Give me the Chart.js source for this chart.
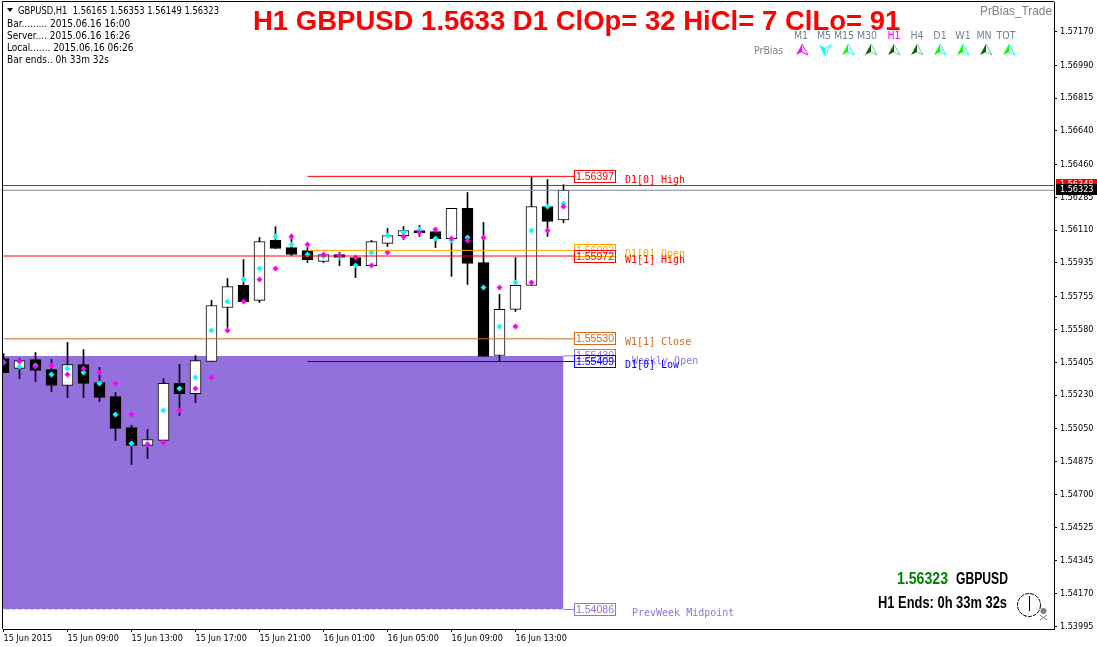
<!DOCTYPE html>
<html>
<head>
<meta charset="utf-8">
<title>GBPUSD H1</title>
<script src="https://cdn.jsdelivr.net/npm/chart.js@4"></script>
<style>
  html, body { margin: 0; padding: 0; background: #fff; }
  canvas { display: block; }
</style>
</head>
<body>
<canvas id="chartId" width="1097" height="647"></canvas>
<script>
// candles, one entry per H1 bar
const opens = [1.55425,1.55372,1.55420,1.55366,1.55281,1.55393,1.55297,1.55222,1.55057,1.54961,1.54988,1.55292,1.55238,1.55409,1.55697,1.55815,1.55735,1.56055,1.56017,1.56001,1.55943,1.55980,1.55964,1.55921,1.56039,1.56081,1.56108,1.56103,1.56065,1.56226,1.55937,1.55441,1.55687,1.55815,1.56236,1.56165];
const highs = [1.55452,1.55425,1.55457,1.55420,1.55511,1.55473,1.55377,1.55244,1.55068,1.55046,1.55318,1.55393,1.55441,1.55735,1.55852,1.55953,1.56071,1.56129,1.56087,1.56017,1.55980,1.55991,1.55964,1.56055,1.56119,1.56129,1.56135,1.56103,1.56226,1.56311,1.56151,1.55767,1.55964,1.56391,1.56380,1.56353];
const lows = [1.55350,1.55318,1.55302,1.55249,1.55217,1.55217,1.55196,1.54988,1.54860,1.54892,1.54988,1.55121,1.55190,1.55409,1.55591,1.55729,1.55724,1.56012,1.55975,1.55937,1.55937,1.55921,1.55857,1.55921,1.56023,1.56060,1.56076,1.56017,1.55863,1.55820,1.55436,1.55409,1.55676,1.55815,1.56076,1.56149];
const closes = [1.55350,1.55414,1.55361,1.55281,1.55393,1.55292,1.55217,1.55052,1.54961,1.54993,1.55292,1.55238,1.55414,1.55708,1.55809,1.55729,1.56049,1.56012,1.55980,1.55953,1.55980,1.55964,1.55921,1.56049,1.56081,1.56108,1.56097,1.56065,1.56226,1.55932,1.55436,1.55687,1.55815,1.56236,1.56156,1.56323];

// the two dot indicators
const magentaDots = [1.55404,1.55409,1.55382,1.55388,1.55340,1.55372,1.55350,1.55292,1.55126,1.54966,1.54977,1.55148,1.55265,1.55324,1.55575,1.55729,1.55847,1.55905,1.56076,1.56033,1.55980,1.55975,1.55964,1.55921,1.55991,1.56076,1.56097,1.56113,1.56065,1.56055,1.56071,1.55804,1.55596,1.55831,1.56108,1.56236];
const cyanDots = [1.55404,1.55382,1.55388,1.55340,1.55372,1.55350,1.55292,1.55126,1.54972,1.54972,1.55148,1.55265,1.55324,1.55575,1.55729,1.55847,1.55905,1.56076,1.56033,1.55980,1.55969,1.55964,1.55921,1.55991,1.56081,1.56097,1.56113,1.56065,1.56055,1.56071,1.55804,1.55596,1.55831,1.56108,1.56236,1.56252];

// price levels
const levelNames = ['D1[0] High','D1[0] Open','W1[1] High','W1[1] Close','Weekly Open','D1[0] Low','PrevWeek Midpoint'];
const levelValues = [1.56397,1.56002,1.55972,1.55530,1.55439,1.55409,1.54086];
const levelFromBar = [19,19,0,0,35,19,35];
const askPrice = 1.56348;
const bidPrice = 1.56323;

// axes
const yTickValues = [1.57170,1.56990,1.56815,1.56640,1.56460,1.56285,1.56110,1.55935,1.55755,1.55580,1.55405,1.55230,1.55050,1.54875,1.54700,1.54525,1.54345,1.54170,1.53995];
const xTickBars = [0,4,8,12,16,20,24,28,32];
const xTickLabels = ['15 Jun 2015','15 Jun 09:00','15 Jun 13:00','15 Jun 17:00','15 Jun 21:00','16 Jun 01:00','16 Jun 05:00','16 Jun 09:00','16 Jun 13:00'];

// text panels
const titleText = 'H1 GBPUSD 1.5633 D1 ClOp= 32 HiCl= 7 ClLo= 91';
const headerText = 'GBPUSD,H1  1.56165 1.56353 1.56149 1.56323';
const infoLines = ['Bar......... 2015.06.16 16:00','Server.... 2015.06.16 16:26','Local....... 2015.06.16 06:26','Bar ends.. 0h 33m 32s'];
const periods = ['M1','M5','M15','M30','H1','H4','D1','W1','MN','TOT'];

const uiFont = '"DejaVu Sans Condensed", "Liberation Sans", sans-serif';
const monoFont = '"DejaVu Sans Mono", monospace';
const purple = '#9370DB';
const levelColors = ['#ff0000','#FFA500','#ff0000','#D2691E',purple,'#0000ff',purple];
const labelDx = [0,0,0,0,0.44,0,0.44]; // the purple labels sit a bit further right
const labelDy = [4,4,4,4,6,4,4];

const lastBar = opens.length - 1;
const boxBar = 35.66;

function hLine(from, to, value, color, order, dash) {
    return {
        type: 'line',
        data: [{x: from, y: value}, {x: to, y: value}],
        borderColor: color,
        borderWidth: 1,
        borderDash: dash || [],
        pointRadius: 0,
        fill: false,
        order: order
    };
}

function dots(values, color, order) {
    return {
        type: 'scatter',
        data: values.map((v, i) => ({x: i, y: v})),
        backgroundColor: color,
        borderWidth: 0,
        pointStyle: 'rectRot',
        pointRadius: 3,
        order: order
    };
}

const datasets = [
    // background block of the previous week
    {
        type: 'line',
        data: [{x: -0.05, y: levelValues[4]}, {x: lastBar, y: levelValues[4]}],
        borderWidth: 0,
        pointRadius: 0,
        backgroundColor: purple,
        fill: {value: levelValues[6]},
        order: 20
    },
    hLine(0, lastBar, levelValues[6], '#ffffff', 19, [3, 3]),
    // wicks
    {
        type: 'bar',
        grouped: false,
        data: highs.map((h, i) => ({x: i, y: [lows[i], h]})),
        backgroundColor: '#000',
        barThickness: 1,
        order: 15
    },
    // bodies
    {
        type: 'bar',
        grouped: false,
        data: opens.map((o, i) => ({x: i, y: [o, closes[i]]})),
        backgroundColor: opens.map((o, i) => closes[i] >= o ? '#fff' : '#000'),
        borderColor: '#000',
        borderWidth: 1,
        borderSkipped: false,
        barThickness: 11,
        order: 14
    },
    dots(cyanDots, '#00ffff', 12),
    dots(magentaDots, '#ff00ff', 11),
    hLine(-0.05, 66, askPrice, '#ff0000', 5),
    hLine(-0.05, 66, bidPrice, '#778899', 4)
];
levelValues.forEach((v, i) => {
    datasets.push(hLine(levelFromBar[i], boxBar, v, levelColors[i], 6));
});

function drawArrow(ctx, x, y, up, main, side) {
    const d = up ? 1 : -1;
    ctx.fillStyle = main;
    ctx.beginPath();
    ctx.moveTo(x, y - 6 * d);
    ctx.lineTo(x - 6, y + 5 * d);
    ctx.lineTo(x, y + 2 * d);
    ctx.closePath();
    ctx.fill();
    ctx.strokeStyle = side;
    ctx.lineWidth = 1;
    ctx.beginPath();
    ctx.moveTo(x, y - 6 * d);
    ctx.lineTo(x + 6, y + 5 * d);
    ctx.lineTo(x, y + 2 * d);
    ctx.stroke();
}

const overlay = {
    id: 'overlay',
    afterDraw(chart) {
        const ctx = chart.ctx;
        const xs = chart.scales.x;
        const ys = chart.scales.y;
        const area = chart.chartArea;
        ctx.save();

        // frame on the two sides the axes leave open
        ctx.strokeStyle = '#000';
        ctx.lineWidth = 1;
        ctx.beginPath();
        ctx.moveTo(area.left - 0.5, area.bottom);
        ctx.lineTo(area.left - 0.5, area.top - 0.5);
        ctx.lineTo(area.right, area.top - 0.5);
        ctx.stroke();

        // price boxes and level names, the boxes are see-through like the terminal's
        ctx.textBaseline = 'middle';
        levelValues.forEach((v, i) => {
            const y = Math.round(ys.getPixelForValue(v) - 0.5);
            const left = Math.round(xs.getPixelForValue(boxBar));
            ctx.strokeStyle = levelColors[i];
            ctx.strokeRect(left + 0.5, y - 5.5, 41, 12);
            ctx.fillStyle = levelColors[i];
            ctx.font = '11px "Liberation Sans", sans-serif';
            ctx.textAlign = 'left';
            ctx.fillText(v.toFixed(5), left + 2, y + 1, 38);
            ctx.font = '10px ' + monoFont;
            ctx.fillText(levelNames[i], xs.getPixelForValue(38.84 + labelDx[i]), y + labelDy[i]);
        });

        // ask and bid flags on the price axis
        ctx.font = '9px ' + uiFont;
        ctx.fillStyle = '#ff0000';
        const askY = Math.round(ys.getPixelForValue(askPrice) - 0.5);
        ctx.fillRect(area.right + 2, askY - 6, 41, 12);
        ctx.fillStyle = '#fff';
        ctx.fillText(askPrice.toFixed(5), area.right + 6, askY);
        const bidY = Math.round(ys.getPixelForValue(bidPrice) - 0.5);
        ctx.fillStyle = '#000';
        ctx.fillRect(area.right + 2, bidY - 6, 41, 11);
        ctx.fillStyle = '#fff';
        ctx.fillText(bidPrice.toFixed(5), area.right + 6, bidY);

        // title
        ctx.textBaseline = 'alphabetic';
        ctx.fillStyle = '#ff0000';
        ctx.font = 'bold 27.5px "Liberation Sans", sans-serif';
        ctx.fillText(titleText, 253, 30, 648);

        // info block, top left
        ctx.fillStyle = '#000';
        ctx.beginPath();
        ctx.moveTo(7, 8);
        ctx.lineTo(13, 8);
        ctx.lineTo(10, 12);
        ctx.closePath();
        ctx.fill();
        ctx.font = '10px ' + uiFont;
        ctx.fillText(headerText, 18, 14, 201);
        ctx.fillStyle = '#000';
        infoLines.forEach((line, i) => {
            ctx.fillText(line, 7, 27 + i * 12);
        });

        // PrBias panel, top right
        ctx.fillStyle = '#808080';
        ctx.font = '12px "Liberation Sans", sans-serif';
        ctx.fillText('PrBias_Trade', 980, 15, 72);
        const labelX = [801,824,844,867,894,917,940,963,984,1006];
        const arrowX = [802,825,848,871,894,917,940,963,986,1009];
        const arrowMain = ['#ff00ff','#00ffff','#00ff00','#006400','#006400','#006400','#00ff00','#00ff00','#006400','#00ff00'];
        const arrowSide = ['#ff00ff','#00ffff','#00ffff','#66cdaa','#66cdaa','#66cdaa','#00ffff','#00ffff','#66cdaa','#00ffff'];
        ctx.font = '10.5px ' + uiFont;
        ctx.textAlign = 'center';
        periods.forEach((p, i) => {
            ctx.fillStyle = p === 'H1' ? '#ff00ff' : '#708090';
            ctx.fillText(p, labelX[i], 39);
            drawArrow(ctx, arrowX[i], 50, p !== 'M5', arrowMain[i], arrowSide[i]);
        });
        ctx.textAlign = 'left';
        ctx.fillStyle = '#808080';
        ctx.fillText('PrBias', 754, 54);

        // countdown, bottom right
        ctx.font = 'bold 16px "Liberation Sans Narrow", "Liberation Sans", sans-serif';
        ctx.fillStyle = '#008000';
        ctx.fillText(bidPrice.toFixed(5), 897, 584, 51);
        ctx.fillStyle = '#000';
        ctx.fillText('GBPUSD', 956, 584, 52);
        ctx.fillText('H1 Ends: 0h 33m 32s', 878, 608, 129);

        // clock
        ctx.strokeStyle = '#000';
        ctx.lineWidth = 1;
        ctx.setLineDash([4, 1]);
        ctx.beginPath();
        ctx.arc(1029, 605, 11.5, 0, Math.PI * 2);
        ctx.stroke();
        ctx.setLineDash([]);
        ctx.beginPath();
        ctx.moveTo(1029.5, 596);
        ctx.lineTo(1029.5, 611);
        ctx.stroke();
        ctx.strokeStyle = '#808080';
        ctx.beginPath();
        ctx.moveTo(1040, 615);
        ctx.lineTo(1047, 620);
        ctx.moveTo(1047, 615);
        ctx.lineTo(1040, 620);
        ctx.stroke();
        ctx.fillStyle = '#808080';
        ctx.beginPath();
        ctx.arc(1043.5, 611, 3, 0, Math.PI * 2);
        ctx.fill();

        ctx.restore();
    }
};

new Chart(document.getElementById('chartId').getContext('2d'), {
    data: {datasets: datasets},
    plugins: [overlay],
    options: {
        responsive: false,
        animation: false,
        events: [],
        layout: {autoPadding: false, padding: {left: 3, top: 2, right: 0, bottom: 0}},
        plugins: {legend: {display: false}, tooltip: {enabled: false}},
        scales: {
            x: {
                type: 'linear',
                offset: false,
                min: -0.03125,
                max: 65.65625,
                border: {color: '#000', width: 1},
                grid: {drawOnChartArea: false, offset: false, color: '#000', tickLength: 3},
                afterBuildTicks(scale) {
                    scale.ticks = xTickBars.map(v => ({value: v}));
                },
                afterFit(scale) {
                    scale.height = 18;
                    scale.paddingLeft = 0;
                    scale.paddingRight = 0;
                },
                ticks: {
                    autoSkip: false,
                    maxRotation: 0,
                    align: 'start',
                    padding: 1,
                    color: '#000',
                    font: {family: uiFont, size: 9},
                    callback: (value) => xTickLabels[xTickBars.indexOf(value)]
                }
            },
            y: {
                type: 'linear',
                position: 'right',
                min: 1.539817,
                max: 1.573274,
                border: {color: '#000', width: 1},
                grid: {drawOnChartArea: false, color: '#000', tickLength: 3},
                afterBuildTicks(scale) {
                    scale.ticks = yTickValues.map(v => ({value: v}));
                },
                afterFit(scale) {
                    scale.width = 43;
                    scale.paddingTop = 0;
                    scale.paddingBottom = 0;
                },
                ticks: {
                    padding: 3,
                    color: '#000',
                    font: {family: uiFont, size: 9},
                    callback: (value) => value.toFixed(5)
                }
            }
        }
    }
});
</script>
</body>
</html>
